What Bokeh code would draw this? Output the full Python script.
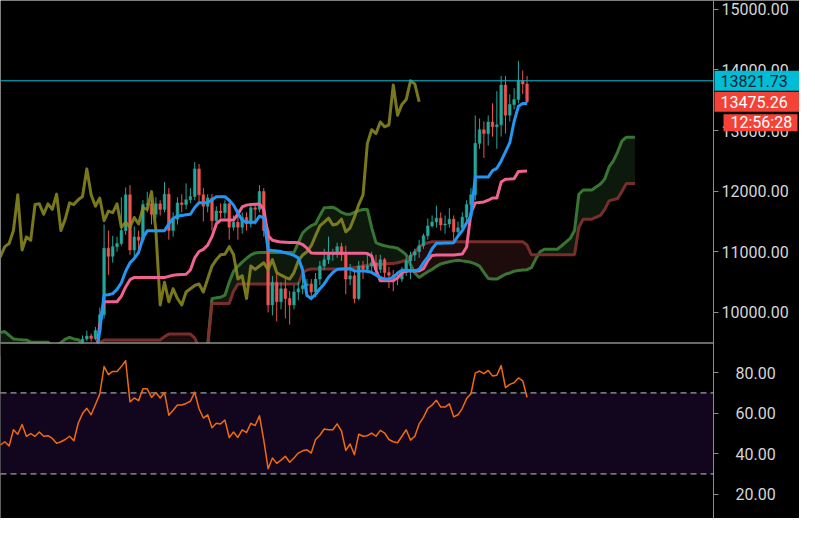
import numpy as np
from bokeh.plotting import figure
from bokeh.core.properties import value
from bokeh.models import (Range1d, FixedTicker, NumeralTickFormatter, LinearAxis,
                          BoxAnnotation, ColumnDataSource)
from bokeh.embed import file_html
from bokeh.resources import INLINE

# ---------------- data ----------------
candle_bars = list(range(19, 123))
opens = [9510, 9560, 9610, 9570, 9700, 9960, 11060, 10925, 11085, 11138,
         11351, 11940, 11031, 11246, 11191, 11779, 11791, 11619, 11791, 11699,
         11951, 11351, 11539, 11807, 11779, 11859, 11912, 12368, 11940, 11752,
         11887, 11512, 11672, 11646, 11791, 11406, 11486, 11406, 11566, 11459,
         11726, 11700, 11993, 11351, 10123, 10497, 10176, 10390, 10229, 10123,
         10337, 10390, 10444, 10470, 10337, 10550, 10765, 10870, 10951, 10960,
         11085, 10951, 10550, 10604, 10229, 10765, 10710, 10765, 10818, 10710,
         10870, 10657, 10614, 10577, 10550, 10657, 10850, 10946, 11000, 11100,
         11266, 11427, 11491, 11555, 11443, 11459, 11539, 11330, 11395, 11571,
         11779, 11940, 12789, 13014, 12950, 13142, 13062, 13094, 13751, 13254,
         13430, 13511, 13821.73, 13770]
highs = [9620, 9700, 9650, 9760, 10080, 11450, 11350, 11260, 11250, 11900,
         12060, 12100, 11420, 11350, 11850, 11990, 11850, 11900, 11850, 12150,
         12050, 11650, 11900, 11950, 12130, 12050, 12480, 12450, 12050, 11950,
         11950, 11750, 11800, 11850, 11850, 11600, 11700, 11650, 11650, 11800,
         11800, 12100, 12050, 11400, 10600, 10650, 10500, 10550, 10350, 10450,
         10500, 10650, 10550, 10550, 10650, 10850, 11050, 11250, 11050, 11150,
         11150, 11100, 10800, 10700, 10850, 10850, 10950, 11000, 10950, 10950,
         10900, 10750, 10700, 10650, 10750, 10900, 11000, 11050, 11200, 11300,
         11550, 11600, 11760, 11650, 11600, 11720, 11600, 11500, 11650, 11850,
         12050, 13250, 13200, 13150, 13250, 13450, 13650, 13900, 13900, 13600,
         13700, 14150, 13990, 13900]
lows = [9400, 9530, 9520, 9540, 9680, 9900, 10620, 10820, 11000, 11100,
        11280, 10950, 10900, 11000, 11150, 11650, 11450, 11550, 11600, 11650,
        11200, 11250, 11450, 11650, 11700, 11800, 11850, 11800, 11500, 11650,
        11350, 11400, 11550, 11550, 11200, 11350, 11200, 11300, 11350, 11400,
        11450, 11650, 11250, 10000, 9950, 9850, 10050, 9900, 9800, 10050,
        10200, 10300, 10250, 10200, 10250, 10450, 10700, 10800, 10850, 10900,
        10850, 10300, 10450, 10150, 10200, 10550, 10650, 10650, 10600, 10650,
        10550, 10400, 10350, 10450, 10500, 10600, 10550, 10850, 10900, 11050,
        11200, 11400, 11400, 11350, 11300, 11400, 11150, 11300, 11350, 11500,
        11700, 11850, 12700, 12550, 12750, 12900, 12700, 12900, 12950, 13150,
        13350, 13450, 13600, 13450]
closes = [9560, 9610, 9570, 9700, 9960, 11060, 10925, 11085, 11138, 11351,
          11940, 11031, 11246, 11191, 11779, 11791, 11619, 11791, 11699, 11951,
          11351, 11539, 11807, 11779, 11859, 11912, 12368, 11940, 11752, 11887,
          11512, 11672, 11646, 11791, 11406, 11486, 11406, 11566, 11459, 11726,
          11700, 11993, 11351, 10123, 10497, 10176, 10390, 10229, 10123, 10337,
          10390, 10444, 10470, 10337, 10550, 10765, 10870, 10951, 10960, 11085,
          10951, 10550, 10604, 10229, 10765, 10710, 10765, 10818, 10710, 10870,
          10657, 10614, 10577, 10550, 10657, 10850, 10946, 11000, 11100, 11266,
          11427, 11491, 11555, 11443, 11459, 11539, 11330, 11395, 11571, 11779,
          11940, 12789, 13014, 12950, 13142, 13062, 13094, 13751, 13254, 13430,
          13511, 13821.73, 13770, 13475.26]

line_bars = list(range(22, 123))
tenkan = [9200, 9700, 10289, 10292, 10310, 10380, 10490, 10680, 10818, 10890,
          10990, 11230, 11347, 11347, 11347, 11347, 11347, 11460, 11550, 11590,
          11600, 11610, 11619, 11730, 11811, 11811, 11811, 11860, 11908, 11908,
          11908, 11850, 11770, 11640, 11520, 11490, 11486, 11486, 11590, 11560,
          11031, 11020, 11012, 11003, 10985, 10965, 10940, 10900, 10700, 10280,
          10230, 10300, 10390, 10470, 10580, 10660, 10710, 10715, 10718, 10721,
          10684, 10684, 10684, 10680, 10660, 10615, 10577, 10550, 10550, 10580,
          10650, 10694, 10694, 10690, 10684, 10710, 10820, 10910, 11050, 11140,
          11140, 11145, 11147, 11149, 11260, 11350, 11480, 11590, 12233, 12233,
          12233, 12233, 12340, 12377, 12500, 12650, 12800, 13150, 13400, 13446,
          13446]
kijun = [9200, 9800, 10176, 10176, 10176, 10176, 10270, 10420, 10540, 10577,
         10577, 10577, 10577, 10577, 10577, 10577, 10577, 10595, 10614, 10620,
         10625, 10630, 10700, 10900, 11005, 11040, 11110, 11250, 11459, 11523,
         11523, 11523, 11523, 11620, 11740, 11770, 11779, 11785, 11790, 11700,
         11270, 11190, 11175, 11160, 11158, 11155, 11152, 11149, 11120, 11060,
         10980, 10978, 10978, 10978, 10978, 10978, 10978, 10978, 10978, 10978,
         10978, 10978, 10978, 10970, 10930, 10700, 10524, 10524, 10524, 10524,
         10570, 10650, 10684, 10684, 10684, 10684, 10720, 10850, 10940, 10946,
         10946, 10946, 10946, 10946, 10955, 10962, 11080, 11640, 11807, 11815,
         11823, 11850, 11887, 11887, 12150, 12196, 12200, 12207, 12324, 12330,
         12332]

cloud_bars = list(range(0, 148))
span_a = ([9668, 9684, 9620, 9562, 9555, 9550, 9546, 9510, 9508, 9508,
           9508, 9508, 9460, 9455, 9500, 9560, 9588, 9562, 9550, 9480]
          + [9350] * 28
          + [9450, 10229, 10240, 10250, 10284, 10500, 10680, 10760, 10830, 10890,
             10951, 10980]
          + [10990] * 9
          + [11150, 11310, 11380, 11431, 11459, 11600, 11726, 11730, 11736, 11700,
             11650, 11620, 11619, 11650, 11680, 11699, 11699, 11400, 11150, 11120,
             11100, 11085, 11075, 11060, 11010, 10950, 10790, 10650, 10577, 10625,
             10670, 10710, 10760, 10800, 10820, 10835, 10850, 10861, 10850, 10840,
             10826, 10800, 10765, 10660, 10560, 10550, 10550, 10590, 10630, 10650,
             10680, 10690, 10700, 10705, 10737, 10880, 11000, 11042, 11042, 11042,
             11042, 11100, 11160, 11220, 11350, 11950, 12020, 12020, 12020, 12070,
             12120, 12200, 12400, 12500, 12650, 12830, 12890, 12890, 12890])
span_b = ([9300] * 22
          + [9350, 9500]
          + [9546] * 14
          + [9600]
          + [9643] * 6
          + [9580, 9420, 9375, 9450]
          + [10149] * 5
          + [10350]
          + [10470] * 15
          + [10650, 10700]
          + [10715] * 8
          + [10721, 10730, 10740, 10750, 10765, 10780, 10785, 10790, 10795, 10800,
             10805, 10806, 10820, 10840, 10860, 10920, 11000, 11080, 11130, 11150]
          + [11165] * 22
          + [11111]
          + [10951] * 11
          + [11400, 11539, 11539, 11539, 11570, 11600, 11700, 11840, 11860, 11880,
             12000, 12127, 12127, 12127])

rsi_bars = list(range(0, 123))
rsi = [44.3, 45.9, 43.8, 51.8, 49.6, 54.4, 48.6, 49.9, 48.6, 50.7,
       48.6, 48.9, 47.5, 45.1, 45.9, 47.0, 48.6, 46.4, 55.0, 59.8,
       62.4, 59.2, 64.3, 69.4, 83.0, 79.0, 80.6, 80.6, 83.0, 85.9,
       65.6, 67.5, 66.2, 72.0, 72.0, 67.8, 70.2, 67.5, 70.2, 59.0,
       61.4, 64.0, 64.0, 64.8, 65.9, 70.4, 62.2, 57.6, 59.2, 52.8,
       55.0, 54.7, 56.6, 48.0, 50.7, 48.0, 51.8, 50.4, 55.0, 53.9,
       58.7, 46.7, 32.6, 37.9, 35.2, 36.8, 38.7, 35.8, 37.9, 40.3,
       41.4, 41.9, 40.3, 47.0, 49.1, 52.2, 51.8, 51.8, 54.7, 51.2,
       41.6, 44.8, 39.5, 49.6, 48.6, 48.9, 50.2, 48.6, 51.5, 50.2,
       47.0, 45.9, 45.4, 48.6, 51.8, 46.7, 48.6, 54.7, 57.9, 62.4,
       64.0, 66.4, 63.0, 63.0, 64.6, 58.2, 59.2, 62.4, 67.2, 69.6,
       79.8, 80.8, 79.5, 81.1, 78.4, 78.7, 83.5, 72.6, 74.2, 75.0,
       77.4, 76.0, 67.8]

price_ticks = [10000, 11000, 12000, 13000, 14000, 15000]
rsi_ticks = [20, 40, 60, 80]
rsi_upper = 70
rsi_lower = 30
line_price = 13821.73
last_price = 13475.26
countdown = "12:56:28"
lag = 25

# ---------------- layout / style ----------------
BG = "#000000"
FONT = "Roboto"
AXIS_COL = "#8c8c8c"
UP, DOWN = "#26a69a", "#ef5350"
TOTAL_W = 799
PLOT_W = 713
MH, RH = 343, 175                        # price pane / RSI pane heights (px)
X0, X1 = 0.0, 165.2                      # bar range left of the price scale
X_END = X1 * TOTAL_W / PLOT_W            # frame continues under the price scale
PX = X1 / PLOT_W                         # one pixel in bar units
Y0, Y1 = 9487, 15146                     # visible price window (top pane)
R0, R1 = 8.0, 94.4                       # visible RSI window (bottom pane)
Y_BOTTOM = Y0 - RH * (Y1 - Y0) / MH      # price range stretched over the RSI pane
R_TOP = R1 + MH * (R1 - R0) / RH         # RSI range stretched over the price pane

p = figure(frame_width=TOTAL_W, frame_height=MH + RH,
           x_range=Range1d(X0, X_END), y_range=Range1d(Y_BOTTOM, Y1),
           x_axis_location=None, y_axis_location=None,
           output_backend="svg", toolbar_location=None,
           background_fill_color=BG, border_fill_color=BG, outline_line_color=None,
           min_border_left=0, min_border_right=0, min_border_top=0, min_border_bottom=0)
p.extra_y_ranges = {"rsi": Range1d(R0, R_TOP)}
p.xgrid.visible = False
p.ygrid.visible = False


def price_scale(ticks, range_name="default", loc=X1, labels=True, line=True):
    ax = LinearAxis(fixed_location=loc, y_range_name=range_name)
    ax.ticker = FixedTicker(ticks=ticks)
    ax.formatter = NumeralTickFormatter(format="0.00")
    ax.axis_line_color = AXIS_COL if line else None
    ax.major_tick_line_color = AXIS_COL if line else None
    ax.major_tick_in = 0
    ax.major_tick_out = 5
    ax.minor_tick_line_color = None
    ax.major_label_text_color = "#d6d6d6"
    ax.major_label_text_font = FONT
    ax.major_label_text_font_size = "16px"
    ax.major_label_standoff = 3
    if not labels:
        ax.major_label_overrides = {t: "" for t in ticks}
    p.add_layout(ax, "right")


price_scale(price_ticks)
price_scale(rsi_ticks, "rsi", labels=False)                       # ticks on the scale line
price_scale(rsi_ticks, "rsi", loc=X1 + 14 * PX, line=False)       # centred RSI labels

# ---- price pane ----
top = np.maximum(span_a, span_b)
p.varea(x=cloud_bars, y1=span_b, y2=top, fill_color="#0c190c")
p.varea(x=cloud_bars, y1=span_a, y2=top, fill_color="#1e0b0b")
p.line(cloud_bars, span_a, line_color="#3b7a35", line_width=3, line_alpha=0.95)
p.line(cloud_bars, span_b, line_color="#7e2f2c", line_width=3, line_alpha=0.95)

colors = [UP if c >= o else DOWN for o, c in zip(opens, closes)]
src = ColumnDataSource(dict(
    x=candle_bars, h=highs, l=lows,
    top=[max(o, c) for o, c in zip(opens, closes)],
    bot=[min(o, c) for o, c in zip(opens, closes)],
    color=colors))
p.segment(x0="x", y0="l", x1="x", y1="h", line_color="color", line_width=1, source=src)
p.vbar(x="x", width=0.62, top="top", bottom="bot", fill_color="color",
       line_color="color", line_width=0.5, source=src)

p.line([b - lag for b in candle_bars], closes, line_color="#8f8d22",
       line_width=3, line_alpha=0.85, line_join="round")
p.line(line_bars, kijun, line_color="#f06292", line_width=3, line_join="round")
p.line(line_bars, tenkan, line_color="#2196f3", line_width=3, line_join="round")

p.segment(x0=[X0], y0=[line_price], x1=[X1], y1=[line_price],
          line_color="#00bcd4", line_width=1)

# ---- RSI pane (covers whatever of the price pane falls below its window) ----
p.add_layout(BoxAnnotation(top=Y0, right=X1 - 0.6 * PX, fill_color=BG, fill_alpha=1,
                           line_color=None, level="annotation"))
p.add_layout(BoxAnnotation(left=X0, right=X1 - 0.6 * PX, bottom=rsi_lower, top=rsi_upper,
                           y_range_name="rsi", fill_color="#12061f", fill_alpha=1,
                           line_color=None, level="annotation"))
p.segment(x0=[X0, X0], y0=[rsi_upper, rsi_lower], x1=[X1, X1], y1=[rsi_upper, rsi_lower],
          y_range_name="rsi", line_color="#c8c4d0", line_width=1, line_dash="6 4",
          level="overlay")
p.line(rsi_bars, rsi, y_range_name="rsi", line_color="#f06a10", line_width=1.5,
       line_join="round", level="overlay")
p.segment(x0=[X0], y0=[Y0 + 0.5 * (Y1 - Y0) / MH], x1=[X1], y1=[Y0 + 0.5 * (Y1 - Y0) / MH],
          line_color=AXIS_COL, line_width=1.5, level="overlay")

# ---- price tags over the price scale ----
dy = 21 * (Y1 - Y0) / MH
tag_mid = (X1 + 1 * PX + X_END) / 2
tag_w = X_END - X1 - 1 * PX
p.rect(x=[tag_mid, tag_mid], y=[line_price, last_price], width=tag_w, height=20,
       height_units="screen", fill_color=["#00bcd4", "#f44336"], line_color=None,
       level="overlay")
cd_left = X1 + 10 * PX
cd_w = 74 * PX
p.rect(x=[cd_left + cd_w / 2], y=[last_price - dy], width=cd_w, height=17,
       height_units="screen", fill_color="#f44336", line_color=None, level="overlay")
p.text(x=[X1, X1], y=[line_price, last_price],
       text=[f"{line_price:.2f}", f"{last_price:.2f}"], x_offset=7,
       text_align="left", text_baseline="middle", text_font=value(FONT),
       text_font_size="16px", text_color=["#0e2233", "#ffffff"], level="overlay")
p.text(x=[cd_left], y=[last_price - dy], text=[countdown], x_offset=7,
       text_align="left", text_baseline="middle", text_font=value(FONT),
       text_font_size="16px", text_color="#ffffff", level="overlay")

open("out.html", "w").write(file_html(p, INLINE))
